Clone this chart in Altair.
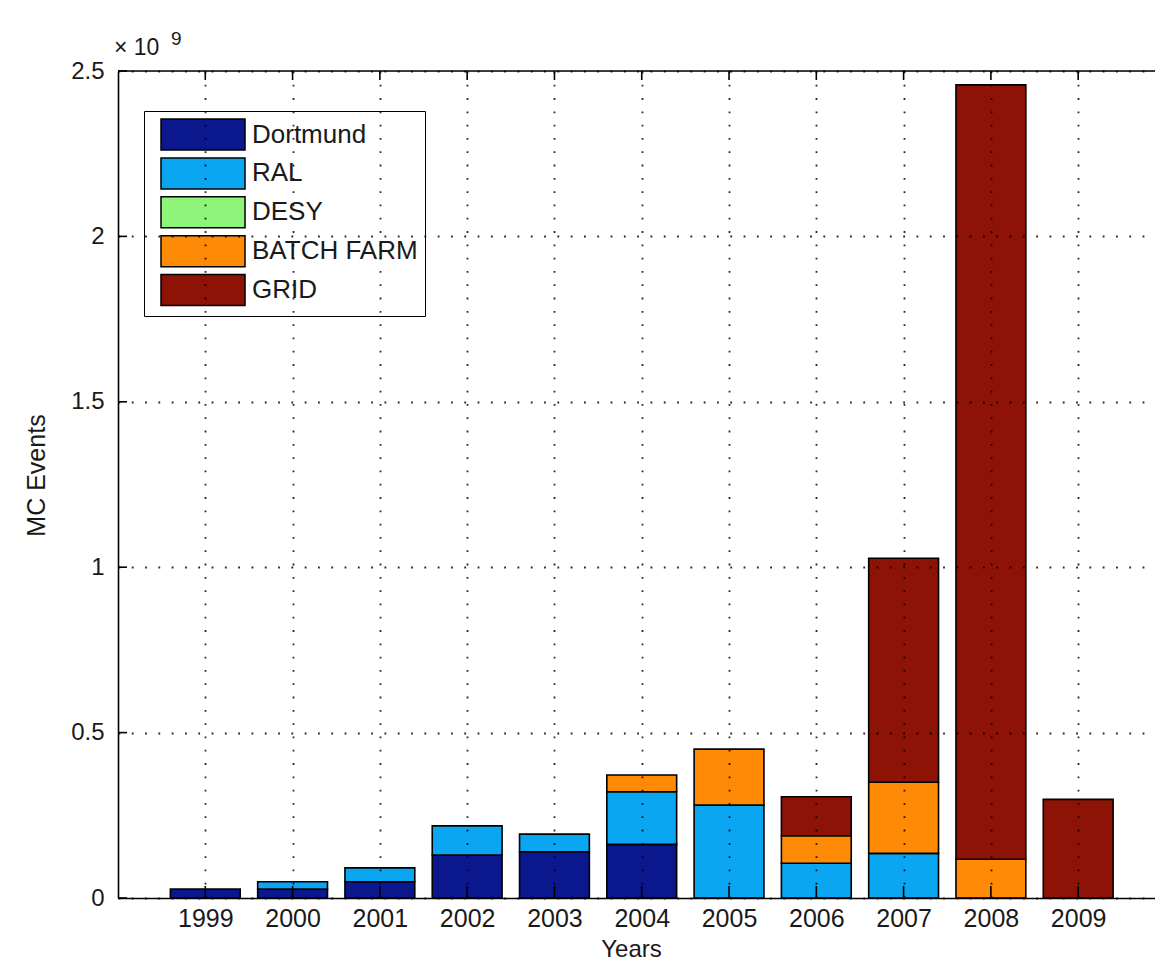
import altair as alt
import pandas as pd

# ---- data (values in units of 1e9 MC events) ----
years = [1999, 2000, 2001, 2002, 2003, 2004, 2005, 2006, 2007, 2008, 2009]
sites = ["Dortmund", "RAL", "DESY", "BATCH FARM", "GRID"]
site_colors = ["#0b178c", "#0aa6f2", "#8ff57a", "#ff8a05", "#8c1305"]
dortmund = [0.027, 0.027, 0.049, 0.130, 0.140, 0.162, 0.0, 0.0, 0.0, 0.0, 0.0]
ral = [0.0, 0.022, 0.042, 0.088, 0.053, 0.159, 0.281, 0.105, 0.135, 0.0, 0.0]
desy = [0.0, 0.0, 0.0, 0.0, 0.0, 0.0, 0.0, 0.0, 0.0, 0.0, 0.0]
batch_farm = [0.0, 0.0, 0.0, 0.0, 0.0, 0.051, 0.169, 0.083, 0.215, 0.117, 0.0]
grid = [0.0, 0.0, 0.0, 0.0, 0.0, 0.0, 0.0, 0.118, 0.677, 2.341, 0.298]
y_ticks = [0, 0.5, 1, 1.5, 2, 2.5]
exp_base = "× 10"
exp_power = "9"

series = [dortmund, ral, desy, batch_farm, grid]
rows = []
for idx, (site, vals) in enumerate(zip(sites, series)):
    for yr, v in zip(years, vals):
        rows.append({"year": yr, "site": site, "idx": idx, "value": v})
df = pd.DataFrame(rows)

W, H = 1037, 827
X_DOMAIN = [1998, 2009.88]
FONT = "Liberation Sans"
TXT = "#1a1a1a"

xscale = alt.Scale(domain=X_DOMAIN, nice=False, zero=False)
yscale = alt.Scale(domain=[0, 2.5], nice=False)

grid_dash = [1.8, 11.5]

bars = (
    alt.Chart(df)
    .transform_filter(alt.datum.value > 0)
    .transform_stack(stack="value", groupby=["year"], as_=["y0", "y1"],
                     sort=[alt.SortField("idx", order="ascending")])
    .transform_calculate(xa="datum.year - 0.4", xb="datum.year + 0.4")
    .mark_bar(stroke="black", strokeWidth=1.6)
    .encode(
        x=alt.X("xa:Q", scale=xscale,
                axis=alt.Axis(values=years, format="d", title="Years",
                              labelFontSize=25, labelFont=FONT, labelColor=TXT,
                              labelPadding=8, ticks=False,
                              grid=True, gridColor="black", gridDash=grid_dash,
                              gridWidth=1.8, gridOpacity=0.85,
                              domainColor="black", domainWidth=1.6,
                              titleFont=FONT, titleFontSize=24, titleFontWeight="normal",
                              titleColor=TXT, titleX=513, titleY=58,
                              titleBaseline="alphabetic", zindex=1)),
        x2="xb:Q",
        y=alt.Y("y0:Q", scale=yscale,
                axis=alt.Axis(values=y_ticks, format="~g", title="MC Events",
                              labelFontSize=24, labelFont=FONT, labelColor=TXT,
                              labelPadding=14, ticks=False,
                              grid=True, gridColor="black", gridDash=grid_dash,
                              gridWidth=1.8, gridOpacity=0.85,
                              domainColor="black", domainWidth=1.6,
                              titleFont=FONT, titleFontSize=25, titleFontWeight="normal",
                              titleColor=TXT, titleX=-82, titleY=404,
                              titleBaseline="middle", zindex=1)),
        y2="y1:Q",
        color=alt.Color("site:N",
                        scale=alt.Scale(domain=sites, range=site_colors),
                        sort=sites,
                        legend=alt.Legend(
                            title=None, orient="none", legendX=26, legendY=40,
                            symbolType="M-1,-1L4.42,-1L4.42,1L-1,1Z",
                            symbolSize=961, symbolStrokeColor="black",
                            symbolStrokeWidth=1.5, symbolOpacity=1,
                            symbolOffset=9,
                            labelFont=FONT, labelFontSize=26, labelColor=TXT,
                            labelOffset=59, rowPadding=1.9,
                            strokeColor="black", fillColor="white",
                            padding=7, labelLimit=400)),
    )
)

tick_df = pd.DataFrame({"v": y_ticks})
year_df = pd.DataFrame({"year": years})

yticks = alt.Chart(tick_df).mark_rule(color="black", strokeWidth=1.6).encode(
    y=alt.Y("v:Q", scale=yscale), x=alt.value(0), x2=alt.value(9))
xticks_bottom = alt.Chart(year_df).mark_rule(color="black", strokeWidth=1.6).encode(
    x=alt.X("year:Q", scale=xscale), y=alt.value(H), y2=alt.value(H - 12))
xticks_top = alt.Chart(year_df).mark_rule(color="black", strokeWidth=1.6).encode(
    x=alt.X("year:Q", scale=xscale), y=alt.value(0), y2=alt.value(9))
top_border = alt.Chart(pd.DataFrame({"v": [2.5]})).mark_rule(color="black", strokeWidth=1.6).encode(
    y=alt.Y("v:Q", scale=yscale), x=alt.value(0), x2=alt.value(W))

exp_text = alt.Chart(pd.DataFrame({"t": [exp_base]})).mark_text(
    font=FONT, fontSize=23, color=TXT, align="left", baseline="alphabetic"
).encode(text="t:N", x=alt.value(-4), y=alt.value(-16))
exp_sup = alt.Chart(pd.DataFrame({"t": [exp_power]})).mark_text(
    font=FONT, fontSize=19, color=TXT, align="left", baseline="alphabetic"
).encode(text="t:N", x=alt.value(53), y=alt.value(-26))

chart = (
    alt.layer(bars, yticks, xticks_bottom, xticks_top, top_border, exp_text, exp_sup)
    .properties(
        width=W, height=H,
        autosize=alt.AutoSizeParams(type="none"),
        padding={"left": 110, "top": 63, "right": 0, "bottom": 64},
    )
    .configure_view(stroke=None)
    .configure(background="white")
)

chart.save("out.html", embed_options={"renderer": "svg", "actions": False})
